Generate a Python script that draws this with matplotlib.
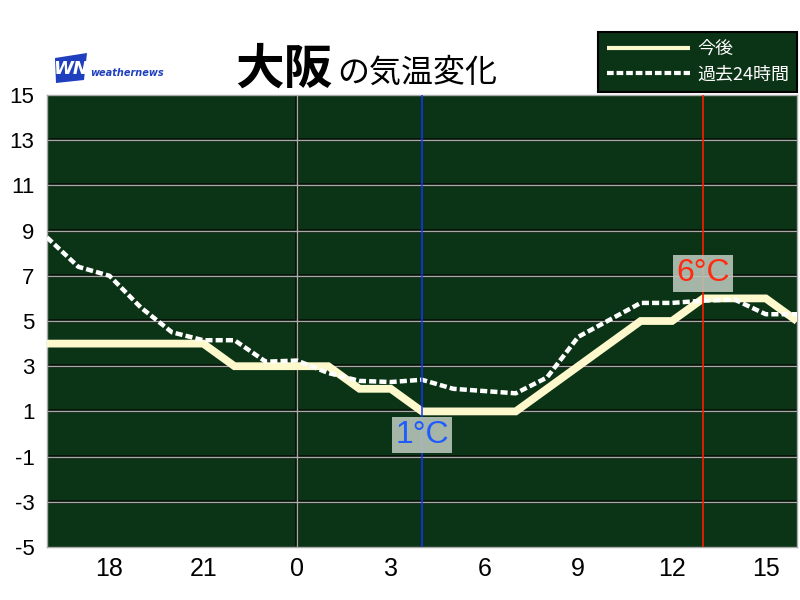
import matplotlib
matplotlib.use("Agg")
import matplotlib.pyplot as plt
from matplotlib.patches import Polygon

# hours relative to midnight (previous-day 16:00 .. today 16:00)
hours = list(range(-8, 17))
forecast = [4, 4, 4, 4, 4, 4, 3, 3, 3, 3, 2, 2, 1, 1, 1, 1, 2, 3, 4, 5, 5, 6, 6, 6, 5]
past24 = [8.7, 7.4, 7.0, 5.6, 4.5, 4.15, 4.15, 3.2, 3.25, 2.7, 2.35, 2.3, 2.4,
          2.0, 1.9, 1.8, 2.5, 4.3, 5.05, 5.8, 5.8, 5.9, 5.95, 5.3, 5.3]

xtick_pos = [-6, -3, 0, 3, 6, 9, 12, 15]
xtick_labels = ["18", "21", "0", "3", "6", "9", "12", "15"]
ytick_pos = [15, 13, 11, 9, 7, 5, 3, 1, -1, -3, -5]

min_hour, min_temp = 4, 1
max_hour, max_temp = 13, 6

title_big = "大阪"
title_small = "の気温変化"
legend_labels = ["今後", "過去24時間"]

BG = "#0b3315"
CREAM = "#fdf9cc"
sans = "Liberation Sans"
cjk = ["Noto Sans CJK JP", "DejaVu Sans"]

fig = plt.figure(figsize=(8, 6), dpi=100, facecolor="white")
ax = fig.add_axes([47 / 800, 1 - 547 / 600, 750 / 800, 452 / 600])
ax.set_facecolor(BG)
ax.set_xlim(-8, 16)
ax.set_ylim(-5, 15)

# grid: light line with dark outline
for y in ytick_pos[1:-1]:
    ax.axhline(y, color="#050f07", lw=2.6, zorder=1)
    ax.axhline(y, color="#a4aca4", lw=1.0, zorder=1.1)
ax.axvline(0, color="#050f07", lw=2.6, zorder=1)
ax.axvline(0, color="#a4aca4", lw=1.0, zorder=1.1)

solid, = ax.plot(hours, forecast, color=CREAM, lw=5.6, solid_joinstyle="miter",
                 solid_capstyle="butt", zorder=3, label=legend_labels[0])
dashed, = ax.plot(hours, past24, color="white", lw=3.2, dashes=(1.6, 0.7),
                  zorder=4, label=legend_labels[1])

ax.axvline(min_hour, color="#1436ff", lw=1.1, zorder=5)
ax.axvline(max_hour, color="#ff1a00", lw=1.2, zorder=5)

box = dict(boxstyle="square,pad=0.1", facecolor="#bcc8bc", edgecolor="none", alpha=0.88)
ax.annotate(f"{min_temp}°C", xy=(min_hour, min_temp), xytext=(0, -17),
            textcoords="offset points", ha="center", va="center",
            color="#1f5bff", fontsize=23, family=sans, bbox=box, zorder=6)
ax.annotate(f"{max_temp}°C", xy=(max_hour, max_temp), xytext=(0, 18),
            textcoords="offset points", ha="center", va="center",
            color="#ff2a10", fontsize=23, family=sans, bbox=box, zorder=6)

ax.set_yticks(ytick_pos)
ax.set_yticklabels([str(v) for v in ytick_pos], family=sans, fontsize=16)
ax.set_xticks(xtick_pos)
ax.set_xticklabels(xtick_labels, family=sans, fontsize=18)
ax.tick_params(axis="both", length=0)
ax.tick_params(axis="y", pad=9)
ax.tick_params(axis="x", pad=7)
for s in ax.spines.values():
    s.set_color("#a8aca8")
    s.set_linewidth(1.0)

# title
fig.text(235 / 800, 1 - 84 / 600, title_big, family=cjk, fontsize=35,
         fontweight="bold", color="black", ha="left", va="baseline")
fig.text(337 / 800, 1 - 82 / 600, title_small, family=cjk, fontsize=23,
         color="black", ha="left", va="baseline")

# logo
logo_blue = "#1f3fbf"
fig.patches.append(Polygon([(55 / 800, 1 - 58 / 600), (87 / 800, 1 - 53 / 600),
                            (84 / 800, 1 - 80 / 600), (56 / 800, 1 - 83 / 600)],
                           closed=True, transform=fig.transFigure,
                           facecolor=logo_blue, edgecolor="none"))
fig.text(71 / 800, 1 - 69 / 600, "WN", color="white", fontsize=13, fontweight="bold",
         style="italic", family="DejaVu Sans", ha="center", va="center")
fig.text(90 / 800, 1 - 73 / 600, "weathernews", color=logo_blue, fontsize=7,
         style="italic", fontweight="bold", family="DejaVu Sans", ha="left", va="center")

leg = ax.legend(handles=[solid, dashed], loc="upper right",
                bbox_to_anchor=(797 / 800, 1 - 32 / 600), bbox_transform=fig.transFigure,
                frameon=True, fancybox=False, facecolor=BG, edgecolor="black",
                framealpha=1, labelcolor="white", prop={"family": cjk, "size": 13},
                handlelength=4.6, handletextpad=0.4, labelspacing=0.42,
                borderpad=0.45, borderaxespad=0)
leg.get_frame().set_linewidth(1.5)
for line in leg.get_lines():
    line.set_linewidth(3.0)

fig.savefig("out.png", dpi=100, facecolor="white")
